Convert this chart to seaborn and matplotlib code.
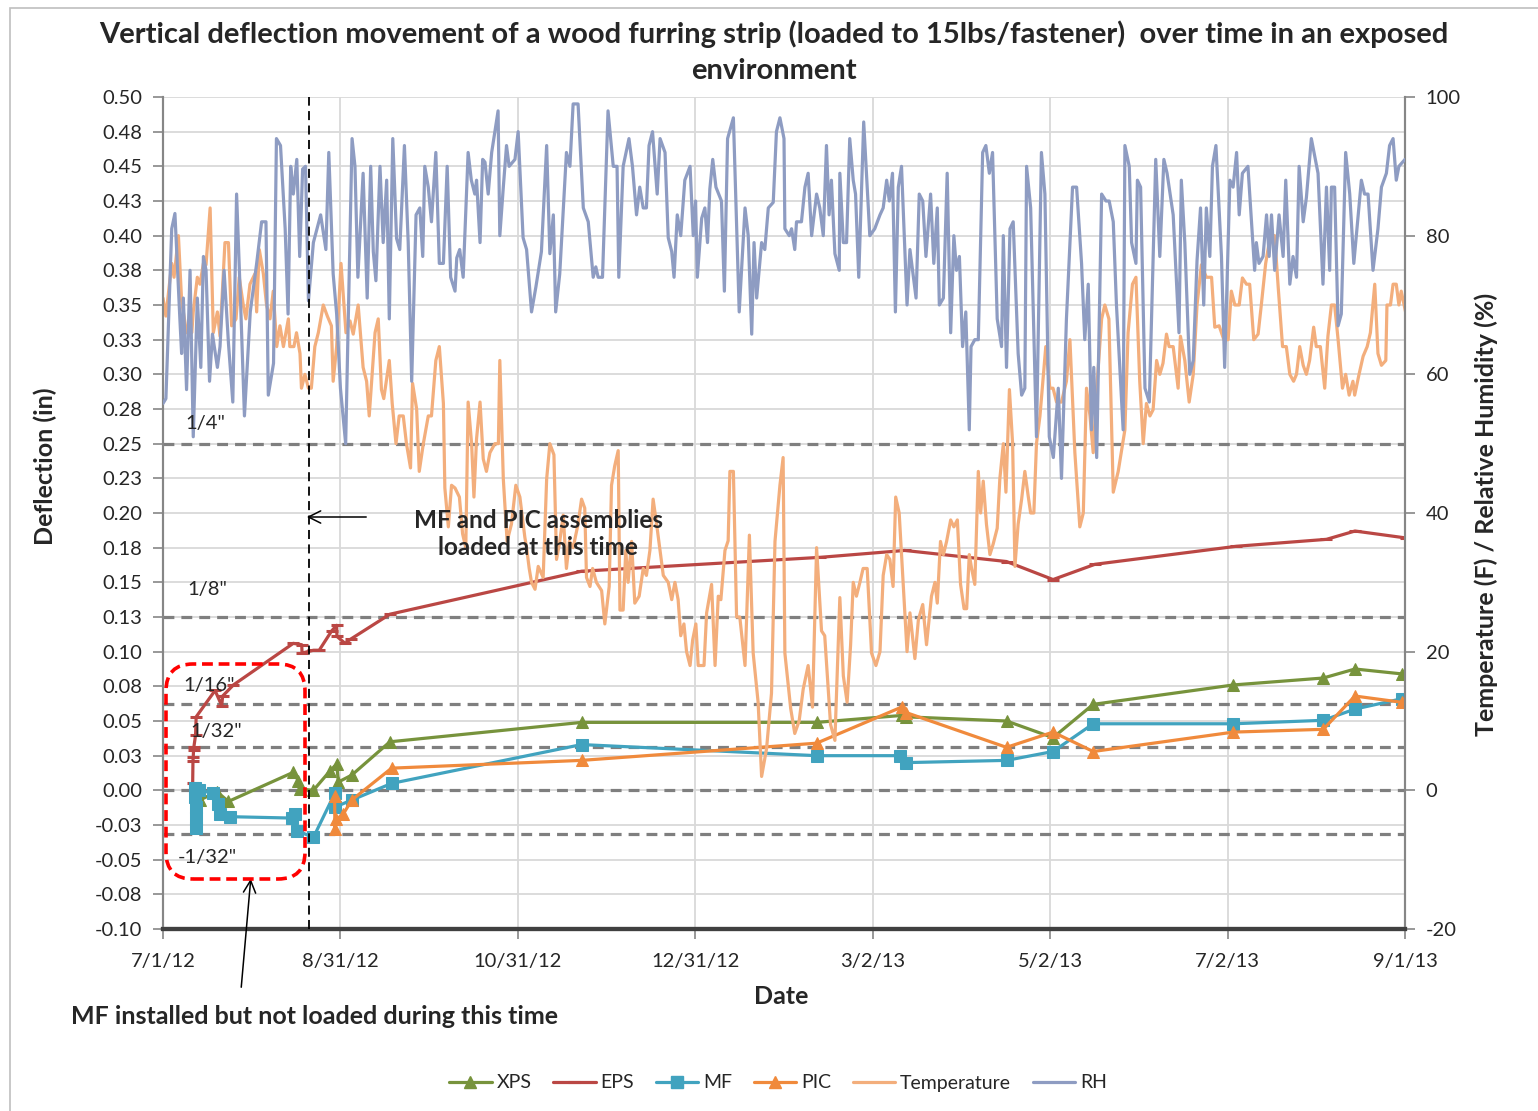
import numpy as np
import pandas as pd
import matplotlib
matplotlib.use("Agg")
import matplotlib.pyplot as plt
from matplotlib.lines import Line2D
from matplotlib.patches import FancyBboxPatch, Rectangle
import seaborn as sns

# ---------------- data ----------------
START = "2012-07-01"  # day 0 of every *_days array
date_labels = ["7/1/12", "8/31/12", "10/31/12", "12/31/12", "3/2/13", "5/2/13", "7/2/13", "9/1/13"]

defl_ticks = [i * 0.025 for i in range(-4, 21)]
defl_tick_labels = ["-0.10", "-0.08", "-0.05", "-0.03", "0.00", "0.03", "0.05", "0.08", "0.10",
                    "0.13", "0.15", "0.18", "0.20", "0.23", "0.25", "0.28", "0.30", "0.33",
                    "0.35", "0.38", "0.40", "0.43", "0.45", "0.48", "0.50"]
right_ticks = [-20, 0, 20, 40, 60, 80, 100]

ref_values = [0.25, 0.125, 0.0625, 0.03125, 0.0, -0.03125]
ref_labels = ['1/4"', '1/8"', '1/16"', '1/32"', '', '-1/32"']

loading_day = 50.2  # MF and PIC loaded

xps_days = [11.2, 11.4, 12.7, 18.5, 22.5, 44.8, 46.5, 47.1, 51.7, 57.4, 59.7, 60.3, 64.9, 78.0,
            143.9, 224.7, 253.9, 255.6, 290.0, 306.0, 319.8, 368.0, 398.9, 409.8, 425.8]
xps_defl = [-0.026, -0.015, -0.007, -0.001, -0.008, 0.013, 0.007, 0.001, 0.0, 0.014, 0.019, 0.006,
            0.011, 0.035, 0.049, 0.049, 0.054, 0.053, 0.050, 0.038, 0.062, 0.076, 0.081, 0.0875, 0.084]

eps_days = [10.2, 10.3, 10.4, 10.5, 10.6, 11.2, 11.4, 17.9, 20.2, 20.5, 24.2, 44.8, 47.7, 47.8,
            51.7, 53.7, 58.0, 59.7, 59.8, 62.6, 64.5, 78.0, 143.9, 225.8, 255.0, 290.0, 306.0,
            320.4, 369.0, 400.0, 409.8, 427.3]
eps_defl = [0.005, 0.021, 0.024, 0.029, 0.031, 0.040, 0.053, 0.072, 0.061, 0.068, 0.076, 0.106,
            0.105, 0.099, 0.101, 0.101, 0.115, 0.119, 0.111, 0.106, 0.109, 0.127, 0.158, 0.168,
            0.173, 0.165, 0.152, 0.163, 0.176, 0.181, 0.187, 0.182]

mf_days = [11.0, 11.1, 11.2, 11.3, 11.4, 12.3, 17.3, 19.0, 19.6, 23.0, 44.2, 45.4, 46.0, 51.7,
           59.1, 59.2, 64.9, 78.6, 143.9, 224.7, 253.3, 255.6, 290.0, 306.0, 319.8, 368.0,
           398.9, 409.8, 425.8]
mf_defl = [0.002, -0.005, -0.012, -0.020, -0.027, 0.0, -0.002, -0.010, -0.017, -0.019, -0.020,
           -0.017, -0.029, -0.034, -0.002, -0.012, -0.007, 0.005, 0.033, 0.025, 0.025, 0.020,
           0.0216, 0.028, 0.048, 0.048, 0.0505, 0.0586, 0.066]

pic_days = [59.0, 59.1, 59.6, 62.0, 64.9, 78.6, 143.9, 224.7, 253.9, 255.6, 290.0, 306.0, 319.8,
            368.0, 398.9, 409.8, 425.8]
pic_defl = [-0.004, -0.028, -0.021, -0.017, -0.007, 0.016, 0.0216, 0.034, 0.060, 0.056, 0.031,
            0.042, 0.028, 0.042, 0.044, 0.068, 0.0635]

temp_days = [0, 1, 3, 3.8, 5.3, 6.4, 8.1, 9.9, 10.4, 11.8, 12.7, 13.9, 14.8, 16.2, 17.3, 18.7, 19.6,
             21.3, 22.5, 23.6, 25.1, 26.2, 27.6, 28.5, 29.9, 31.6, 32.2, 33.1, 34.5, 35.6, 36.8,
             37.9, 39.1, 40.2, 41.4, 43.1, 43.6, 45, 45.9, 47.1, 47.6, 48.8, 50, 51, 52.2, 53.4,
             55.1, 56.5, 57.9, 58.5, 59.7, 61.2, 62.9, 64.3, 65.4, 67.1, 68.8, 70, 70.9, 72.9, 74,
             75.1, 75.9, 77.8, 78.8, 80.1, 81.2, 82.6, 83.7, 85.1,
             85.8, 87.2, 88.1, 89.5, 91.2, 92.3, 93.8, 95, 96.4, 96.9, 98.1, 99.2, 100.4, 101.9,
             103, 104.1, 104.9, 106.1, 106.9, 107.8, 109, 110.1, 111.2, 112.4, 114.1, 115.3,
             115.8, 117, 118.3, 119.8, 121.3, 122.7, 124.4, 125, 125.9, 126.7, 127.9, 129, 130.7,
             131.9, 133, 134.4, 135.3, 136.4, 137.6, 138.7, 139.7, 141, 142.7, 143.9, 145, 145.6,
             146.8, 147.7, 149, 150.8, 151.9, 153.4, 154.2, 155.3, 156.5, 157.1, 158.2, 159.1,
             159.9, 161.1, 162.2, 163.7, 165.1, 166.2, 167.4, 168.5, 169.7,
             170.9, 172, 173.7, 174.9, 176, 177.1, 178, 179.1, 180, 181.2, 182.1, 183.2, 184, 186,
             186.9, 188.6, 189.8, 190.9, 191.8, 193.2, 194.3, 194.9, 196.1, 197.2, 198.3, 200.1,
             201.6, 202.9, 204.6, 205.8, 207.5, 209.2, 210.4, 212.1, 213.2, 213.8, 215.8, 217.2,
             218.7, 220.1, 221.8, 223.3, 224.7, 226.4, 227.5, 228.7, 229.5, 231, 232.7, 233.9,
             235.2, 236.4, 237.3, 238.4, 239.6, 240.7, 242.1, 243.6, 245.1, 246.5, 247.6, 248.8,
             249.9, 251, 251.9, 253.1, 254.5, 255.8,
             256.8, 258.5, 259.7, 261.2, 262.5, 264.2, 265.4, 266.2, 267.3, 268.3, 269.4, 270.8,
             271.9, 273.1, 274.2, 275.4, 276.3, 277.2, 278, 279.1, 280.3, 281.1, 282, 283.1,
             284.3, 285.4, 286.8, 287.7, 288.9, 289.8, 291, 292.1, 292.9, 294, 295.2, 296.3,
             297.5, 298.3, 299.4, 300.3, 301.5, 303.5, 304.9, 306, 307.2, 308.9, 310.6, 311.8,
             313.5, 315.2, 316.4, 317.5, 318.7, 319.8, 321, 322.7, 323.8, 325.2, 326.7, 328.4,
             330.7, 331.8, 333.3, 334.5, 335.8, 337, 338.1, 339.3, 340.4, 341.6,
             342.7, 343.8, 345, 345.9, 347.3, 349, 349.8, 351.3, 352.8, 354.2, 355.5, 357, 358.7,
             360.5, 361.6, 363.1, 364.7, 366.2, 367.3, 368.5, 370, 371.1, 372.5, 373.6, 375,
             376.5, 377.6, 379.1, 380.7, 382.2, 383.4, 384.9, 386.2, 387.4, 388.7, 389.7, 390.8,
             392, 393.1, 394.2, 395.6, 396.5, 397.9, 399.4, 400.5, 401.7, 402.8, 404, 405.5,
             406.6, 407.8, 409.1, 409.7, 411.2, 412.6, 414, 415.1, 416.6, 417.7, 418.9, 420.4,
             420.8, 422, 422.9, 424, 424.9, 425.7, 427.2]
temp_f = [71, 68.4, 76, 74, 80, 70.6, 66, 66, 69, 74, 73, 76, 75.8, 84, 66, 69, 65.5,
          79, 79, 67, 68, 74, 70, 68, 73, 74.5, 69, 78, 74.5, 70, 68,
          72, 64, 67, 64, 68, 64, 64, 66, 63, 58, 60, 58, 58, 64, 66,
          70, 68.4, 67, 59, 64, 76, 66, 67.7, 65.8, 70, 61, 59, 54, 66, 68,
          57.8, 56.5, 62, 55.8, 50, 54, 54, 50, 46.5,
          58.7, 55, 46, 50, 54, 54, 62, 64, 55.8, 43.6, 38, 44, 43.6, 42.3,
          37, 35, 56, 50, 42.3, 50.7, 56, 47.8, 46, 48.7, 50, 50,
          62, 44.9, 35.9, 38.4, 44, 42.3, 36.5, 35, 32, 30, 29, 32.3, 30.7,
          44.9, 50, 48.4, 33.3, 35.9, 39.7, 32, 35.9, 35, 38.4, 42, 40.7, 30.7,
          29.4, 32, 30, 28.8, 24, 29.4, 44, 46.8, 49, 26, 26, 34.6,
          30, 35.9, 27, 28, 32, 31, 34.6, 42, 38.4,
          34.6, 31, 30, 27.5, 30, 27.5, 22.3, 24, 20, 18, 21.7, 24, 18, 18,
          25.6, 29.7, 18, 28, 27.5, 34.6, 36, 46, 46, 25, 25, 18,
          36.8, 19.8, 12.7, 2, 6, 14, 35.9, 44, 48, 19.8, 11.8, 8.2,
          10, 14.6, 18, 12, 35, 23, 22.3, 14.6, 9.5, 7.2, 27.8, 16.5,
          12.7, 21, 30, 28, 30, 32, 32, 19.8, 18, 20, 31, 34,
          33.3, 29.4, 42.3, 40, 29.7, 20,
          25.6, 19, 24.6, 26.8, 21, 28, 30, 27, 35.9, 34, 35.9, 39,
          38, 39, 29.7, 26.2, 26.2, 34, 32, 29.7, 46, 40, 44.6, 38.4,
          34, 35.5, 37.8, 44.9, 50, 43, 57.8, 50, 32.3, 38.4, 42, 46,
          42.3, 40, 40, 50, 54, 64, 58, 58, 56, 56, 59, 65,
          48.7, 38, 40, 58, 54, 48.7, 57.8, 68, 70, 68, 43, 46,
          52, 66, 73, 74, 59, 50, 55.8, 54, 54.9, 62,
          60, 61.6, 65.8, 64, 64, 58, 65.5, 62, 56, 60, 70, 75.8, 74,
          74, 66.8, 67, 65, 65, 72, 70, 70, 73.9, 73, 73, 65,
          65.8, 70, 76, 80, 80, 72.6, 64, 64, 60, 59, 60, 64,
          61.3, 60, 62, 66.8, 64, 64, 58, 65.5, 70, 70, 65, 58,
          60, 57, 59, 57, 60, 62.6, 64, 66, 73, 63, 61.3, 62,
          70, 70, 73, 73, 70, 72, 69]

rh_days = [0, 1, 3, 4.1, 5.8, 6.4, 7, 8.1, 9.3, 10.4, 11.8, 13, 13.9, 14.8, 16, 17, 18.7, 19.6,
           21, 22.5, 24, 25.3, 26.7, 28, 30, 32.2, 33.9, 35.4, 36.2, 38, 39, 40.4, 42, 43, 43.9,
           44.8, 46, 47, 48, 49, 50, 51.7, 54.2, 56, 57, 58.5, 59.7, 61, 62.8, 65, 66, 67, 68.8,
           70.2, 71.4, 72.3, 73.2, 74.6, 75.7, 76.9, 77.8, 79, 80.3, 81.4, 83, 84.3,
           85.5, 87, 88.3, 89.3, 90, 91.2, 92.3, 93.8, 95, 96.4, 97.7, 98.9, 100.4, 101, 102,
           103.2, 104.9, 106, 107.2, 107.8, 109, 109.9, 110.7, 111.8, 113, 115.2, 115.8, 117,
           118.1, 119, 121, 122.1, 123.8, 125, 126.7, 128.2, 130.1, 131.9, 133, 134.2, 135,
           136.4, 138.7, 139.9, 141, 142.7, 144.5, 146.2, 147.9, 148.8, 149.6, 151.1, 153,
           154.8, 156.1, 156.7, 158.2, 160.2, 161.4, 162.8, 163.9, 165.1, 166.2, 167.1, 168.3,
           169.9,
           170.9, 172.6, 173.7, 174.9, 175.7, 176.8, 178, 179.4, 181.2, 182.3, 183.1, 183.7,
           185.2, 186.3, 187.2, 188, 189, 190.1, 192, 193, 194.1, 196.1, 198.1, 200.1, 201.2,
           202.4, 203.2, 204.1, 205.8, 206.9, 208.1, 209.8, 210.9, 212.1, 213.5, 213.8, 215.3,
           216.1, 217.2, 217.8, 219.5, 220.7, 221.8, 223, 224.7, 225.8, 227, 228.1, 229, 229.8,
           231, 232.5, 232.7, 233.9, 235, 236.1, 237.3, 238.1, 239.2, 240.9, 243, 244.7, 246.5,
           247.6, 248.8, 249.7, 250.8, 251.8, 252.8, 253.9, 255.8,
           256.8, 258.9, 260, 261.2, 262.3, 263.9, 265, 266.2, 266.9, 268.3, 269.6, 270.8,
           271.9, 272.8, 273.8, 274.9, 276, 277.2, 277.8, 279.1, 280.3, 281.8, 282.9, 284.1,
           285.2, 286.8, 288.3, 288.9, 290, 291.2, 292.3, 294, 295.2, 296.3, 296.9, 298.3,
           300.3, 302, 303.2, 304.7, 306.1, 307.8, 308.9, 310.6, 312.7, 314.1, 315.8, 316.9,
           318.1, 319.2, 320, 321, 322.7, 324.2, 325.3, 326.7, 327.8, 330.1, 330.7, 332.2, 333,
           334.5, 335, 336.1, 337.6, 339.1, 341.3,
           342.7, 344.1, 345.2, 347.3, 349.3, 350.1, 351.3, 353, 354.2, 355.5, 356.7, 357.8,
           358.7, 359.9, 360.8, 362, 363.9, 365, 366.8, 367.9, 369.1, 370, 371.1, 373, 375.3,
           375.9, 376.8, 378.2, 379.4, 380.3, 381.1, 382.2, 383.7, 385.1, 386, 387.4, 388.5,
           389.7, 390.6, 392, 393.1, 394.8, 397.1, 398.8, 400, 401.1, 401.7, 402.8, 404, 405.1,
           406.6, 408, 409.4, 412, 413.1, 414.3, 416, 417.7, 418.9, 420.6, 421.7, 422.9, 424,
           424.9, 427]
rh_pct = [55.8, 56.5, 81, 83.2, 68, 63, 71, 57.8, 75, 51, 71, 61, 77, 75, 59, 65.8, 61, 64,
          75, 64.5, 56, 86, 70, 54, 69, 76, 82, 82, 57, 61.6, 94, 93, 81, 68.7, 90,
          86, 91, 77, 89.6, 90, 70.6, 79, 83, 78, 92, 74.5, 68.7, 58, 50, 94, 90, 74, 89,
          71, 90, 77.7, 73.5, 90, 79, 88, 68, 94, 79.6, 78, 93, 79,
          59, 83, 84, 77, 90, 87, 82, 92, 76, 76, 90, 74, 72, 76.8, 78,
          74, 92, 88, 86, 88, 79, 91, 90.6, 86, 92, 98, 80, 87,
          93, 90, 91, 95, 79.7, 78, 69, 72.6, 77.7, 93, 77.4, 83, 69,
          74.5, 92, 90, 99, 99, 84, 82, 74, 75.5, 74, 74, 98,
          90, 90, 74, 90, 94, 90, 83, 87, 84, 84, 93, 95,
          86,
          94, 92, 79.7, 77.7, 74, 83, 80, 88, 90, 80, 85, 74,
          82.5, 84, 79, 86.7, 91, 87, 85, 72, 94, 97, 69, 84, 80,
          65.8, 79, 71, 79, 78, 84, 84.8, 95, 97, 94, 81, 80,
          81, 78, 82, 82, 87, 89, 80, 86, 84, 80, 93, 83, 88,
          77.4, 75, 89, 79, 79, 94, 88, 86, 74, 96.4, 80, 81, 83,
          84, 88, 85, 89, 69, 87, 90, 70,
          78, 71, 86, 85, 77, 86, 76, 84, 70, 71, 89, 66,
          80, 75, 77, 64, 69, 52, 64, 65, 65, 92, 93, 89,
          92, 68, 64, 80, 61, 81, 82, 63, 57, 58, 90, 84,
          51, 92, 86, 51, 48, 58, 45, 68, 87, 87, 76, 65,
          73, 52, 61, 48, 86, 85, 85, 82, 70, 52, 93, 90, 79,
          76, 88, 87, 58, 56, 91,
          77, 91, 89, 83, 66, 88, 79, 60, 62, 76.4, 84, 70,
          84, 77, 90, 93, 77, 61, 88, 87, 92, 83, 89, 90, 75,
          79, 76, 77, 83, 77, 83, 75, 83, 77, 88, 73, 77,
          74, 90, 82, 85.5, 94, 89, 73, 87, 75, 87, 87, 67, 68.7,
          92, 86, 76, 88, 86, 86, 75, 81, 87, 89, 93, 94, 88,
          90, 91]

# ---------------- helpers ----------------
start = pd.Timestamp(START)


def to_dates(days):
    return start + pd.to_timedelta(np.asarray(days, dtype=float), unit="D")


tick_dates = pd.to_datetime(date_labels, format="%m/%d/%y")

W, H = 1538, 1111
sns.set_style("white")
plt.rcParams["font.family"] = ["Lato", "DejaVu Sans"]

fig = plt.figure(figsize=(W / 100, H / 100), dpi=100)
T = fig.dpi_scale_trans


def px(x, y):
    return (x / 100.0, (H - y) / 100.0)


ax = fig.add_axes([163 / W, 1 - 929 / H, (1405 - 163) / W, (929 - 97) / H])
ax2 = ax.twinx()

# colours
C_XPS, C_EPS, C_MF, C_PIC = "#77933C", "#BA4744", "#41A3BF", "#F08A3C"
C_TEMP, C_RH = "#F3AE7C", "#8E9CC2"
GRID = "#D9D9D9"
AXC = "#868686"

# gridlines + reference lines on primary axis
ax.set_axisbelow(True)
ax.grid(True, axis="both", color=GRID, linewidth=1.3)
for v in ref_values:
    ax.axhline(v, color="#7F7F7F", linewidth=2.3, linestyle=(0, (3.4, 2.2)), zorder=1)

line_kw = dict(estimator=None, sort=False, linewidth=2.3)
sns.lineplot(x=to_dates(xps_days), y=xps_defl, ax=ax, color=C_XPS, marker="^", markersize=9,
             markeredgecolor=C_XPS, markerfacecolor=C_XPS, zorder=4, **line_kw)
sns.lineplot(x=to_dates(eps_days), y=eps_defl, ax=ax, color=C_EPS, marker="_", markersize=8,
             markeredgewidth=2.2, markeredgecolor=C_EPS, zorder=3, **line_kw)
sns.lineplot(x=to_dates(mf_days), y=mf_defl, ax=ax, color=C_MF, marker="s", markersize=8,
             markeredgecolor=C_MF, markerfacecolor=C_MF, zorder=5, **line_kw)
sns.lineplot(x=to_dates(pic_days), y=pic_defl, ax=ax, color=C_PIC, marker="^", markersize=9,
             markeredgecolor=C_PIC, markerfacecolor=C_PIC, zorder=6, **line_kw)

sns.lineplot(x=to_dates(temp_days), y=temp_f, ax=ax2, color=C_TEMP, zorder=2, **line_kw)
sns.lineplot(x=to_dates(rh_days), y=rh_pct, ax=ax2, color=C_RH, zorder=3, **line_kw)

# axes limits & ticks
ax.set_xlim(tick_dates[0], tick_dates[-1])
ax.set_xticks(tick_dates)
ax.set_xticklabels(date_labels)
ax.set_ylim(-0.10, 0.50)
ax.set_yticks(defl_ticks)
ax.set_yticklabels(defl_tick_labels)
ax2.set_ylim(-20, 100)
ax2.set_yticks(right_ticks)
ax2.set_yticklabels([str(t) for t in right_ticks])
ax2.grid(False)

ax.tick_params(axis="y", direction="out", length=7, width=1.2, color=AXC, labelsize=14.5,
               pad=8, left=True)
ax.tick_params(axis="x", direction="out", length=7, width=1.2, color=AXC, labelsize=14.5,
               pad=10, bottom=True)
ax2.tick_params(axis="y", direction="out", length=7, width=1.2, color=AXC, labelsize=14.5,
                pad=8, right=True)

for a in (ax, ax2):
    a.spines["top"].set_visible(False)
    a.spines["left"].set_color(AXC)
    a.spines["right"].set_color(AXC)
    a.spines["left"].set_linewidth(1.5)
    a.spines["right"].set_linewidth(1.5)
    a.spines["bottom"].set_color("#404040")
    a.spines["bottom"].set_linewidth(3)
ax.set_xlabel("")
ax.set_ylabel("")
ax2.set_ylabel("")

# loading-time vertical dashed line (drawn on top axis)
ax2.axvline(to_dates([loading_day])[0], color="black", linewidth=1.3,
            linestyle=(0, (5, 3)), zorder=8)

# ---------------- texts ----------------
fig.text(*px(774, 52), "Vertical deflection movement of a wood furring strip (loaded to 15lbs/fastener)  over time in an exposed\nenvironment",
         transform=T, ha="center", va="center", fontsize=21, fontweight="bold",
         linespacing=1.5)
fig.text(*px(45, 466), "Deflection (in)", transform=T, rotation=90, ha="center", va="center",
         fontsize=18, fontweight="bold")
fig.text(*px(1486, 514), "Temperature (F) / Relative Humidity (%)", transform=T, rotation=90,
         ha="center", va="center", fontsize=18, fontweight="bold")
fig.text(*px(781, 997), "Date", transform=T, ha="center", va="center", fontsize=18,
         fontweight="bold")

label_pos = {'1/4"': (185, 423), '1/8"': (187, 590), '1/16"': (183, 686), '1/32"': (190, 731),
             '-1/32"': (178, 858)}
for lab in ref_labels:
    if lab:
        fig.text(*px(*label_pos[lab]), lab, transform=T, ha="left", va="center", fontsize=14.5,
                 zorder=10)

fig.text(*px(538, 534), "MF and PIC assemblies\nloaded at this time", transform=T,
         ha="center", va="center", fontsize=17.5, fontweight="bold", linespacing=1.25, zorder=10)
ax2.annotate("", xy=px(304, 517), xycoords=T, xytext=px(369, 517), textcoords=T,
             arrowprops=dict(arrowstyle="->", color="black", lw=1.1, mutation_scale=22),
             zorder=10)

fig.text(*px(71, 1016), "MF installed but not loaded during this time", transform=T,
         ha="left", va="center", fontsize=18, fontweight="bold")
ax2.annotate("", xy=px(251, 876), xycoords=T, xytext=px(241, 990), textcoords=T,
             arrowprops=dict(arrowstyle="->", color="black", lw=1.1, mutation_scale=22),
             annotation_clip=False, zorder=10)

box_x0, box_y0 = px(166, 879)
box_x1, box_y1 = px(305, 664)
fig.patches.append(FancyBboxPatch((box_x0, box_y0), box_x1 - box_x0, box_y1 - box_y0,
                                  boxstyle="round,pad=0,rounding_size=0.27", transform=T,
                                  fill=False, edgecolor="#FF0000", linewidth=2.6,
                                  linestyle=(0, (3, 1.6)), zorder=10, figure=fig))

# chart-area border
bx, by = px(10, 1200)
fig.patches.append(Rectangle((bx, by), 20, (H - 8) / 100 - by, transform=T, fill=False,
                             edgecolor="#BFBFBF", linewidth=1.2, figure=fig))

# ---------------- legend ----------------
handles = [
    Line2D([], [], color=C_XPS, lw=2.3, marker="^", ms=9, mfc=C_XPS, mec=C_XPS),
    Line2D([], [], color=C_EPS, lw=2.3, marker="_", ms=8, mew=2.2, mec=C_EPS),
    Line2D([], [], color=C_MF, lw=2.3, marker="s", ms=8, mfc=C_MF, mec=C_MF),
    Line2D([], [], color=C_PIC, lw=2.3, marker="^", ms=9, mfc=C_PIC, mec=C_PIC),
    Line2D([], [], color=C_TEMP, lw=2.3),
    Line2D([], [], color=C_RH, lw=2.3),
]
labels = ["XPS", "EPS", "MF", "PIC", "Temperature", "RH"]
fig.legend(handles, labels, loc="center", bbox_to_anchor=(778 / W, 1 - 1083 / H), ncol=6,
           frameon=False, fontsize=14, handlelength=2.2, handletextpad=0.25,
           columnspacing=1.1)

fig.savefig("out.png", dpi=100)
